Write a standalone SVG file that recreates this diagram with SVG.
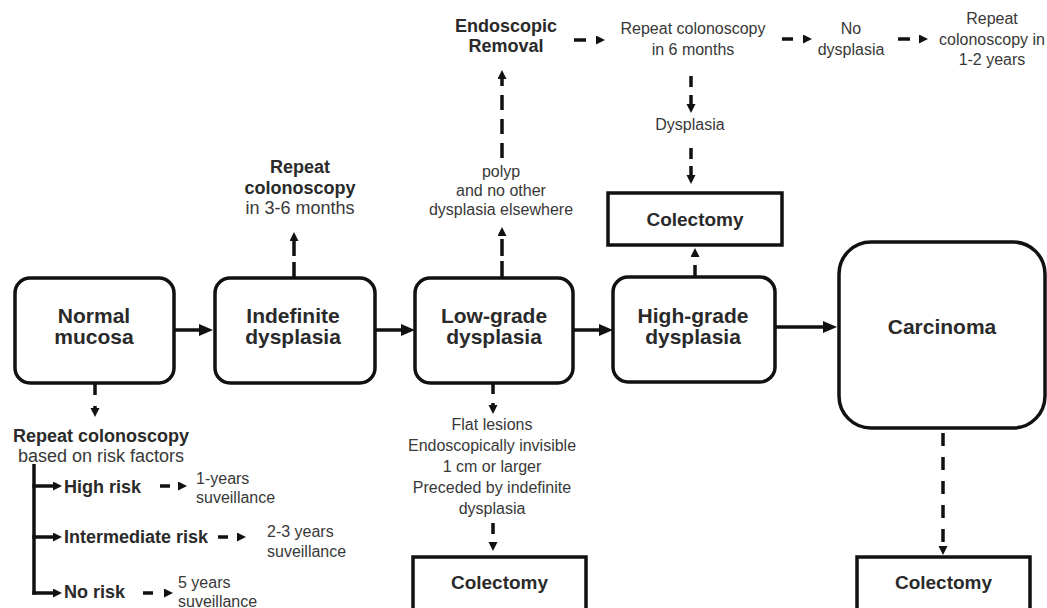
<svg xmlns="http://www.w3.org/2000/svg" width="1047" height="608" viewBox="0 0 1047 608">
<defs>
<style>
text{font-family:"Liberation Sans",Arial,sans-serif;fill:#2a2a2a}
.nb{font-size:21px;font-weight:bold;text-anchor:middle}
.b18{font-size:18px;font-weight:bold}
.r16{font-size:16px;fill:#383838}
.r18{font-size:18px;fill:#383838}
.r15{font-size:16px;fill:#383838}
.c{text-anchor:middle}
.box{fill:#fff;stroke:#111;stroke-width:3.5}
.sol{stroke:#111;stroke-width:3.5;fill:none}
.dsh{stroke:#111;stroke-width:3.5;fill:none}
</style>
<marker id="ab" markerUnits="userSpaceOnUse" markerWidth="14" markerHeight="12" refX="8" refY="6" orient="auto">
<path d="M0,0 L14,6 L0,12 z" fill="#111"/>
</marker>
<marker id="as" markerUnits="userSpaceOnUse" markerWidth="10" markerHeight="10" refX="5" refY="4.5" orient="auto">
<path d="M0,0 L9,4.5 L0,9 z" fill="#111"/>
</marker>
</defs>

<g id="connectors">
<line class="sol" x1="174" y1="330" x2="207" y2="330" marker-end="url(#ab)"/>
<line class="sol" x1="375" y1="330" x2="409" y2="330" marker-end="url(#ab)"/>
<line class="sol" x1="573" y1="330" x2="607" y2="330" marker-end="url(#ab)"/>
<line class="sol" x1="775" y1="327" x2="831" y2="327" marker-end="url(#ab)"/>
<line class="dsh" x1="95" y1="383" x2="95" y2="413" stroke-dasharray="12 11" marker-end="url(#as)"/>
<line class="sol" x1="34" y1="464" x2="34" y2="594.7"/>
<line class="sol" x1="32.3" y1="486" x2="58" y2="486" marker-end="url(#as)"/>
<line class="sol" x1="32.3" y1="537" x2="58" y2="537" marker-end="url(#as)"/>
<line class="sol" x1="32.3" y1="593" x2="58" y2="593" marker-end="url(#as)"/>
<line class="dsh" x1="160" y1="486" x2="183" y2="486" stroke-dasharray="10 10" marker-end="url(#as)"/>
<line class="dsh" x1="218" y1="537" x2="242" y2="537" stroke-dasharray="10 9" marker-end="url(#as)"/>
<line class="dsh" x1="143" y1="593" x2="169" y2="593" stroke-dasharray="10 11" marker-end="url(#as)"/>
<line class="dsh" x1="294" y1="278" x2="294" y2="236" stroke-dasharray="16 6" marker-end="url(#as)"/>
<line class="dsh" x1="502" y1="278" x2="502" y2="231" stroke-dasharray="17 5" marker-end="url(#as)"/>
<line class="dsh" x1="502" y1="158" x2="502" y2="74" stroke-dasharray="15 9" marker-end="url(#as)"/>
<line class="dsh" x1="574" y1="40" x2="601" y2="40" stroke-dasharray="12 11" marker-end="url(#as)"/>
<line class="dsh" x1="782" y1="39" x2="808" y2="39" stroke-dasharray="11 10" marker-end="url(#as)"/>
<line class="dsh" x1="898" y1="39" x2="924" y2="39" stroke-dasharray="12 10" marker-end="url(#as)"/>
<line class="dsh" x1="691" y1="76" x2="691" y2="109" stroke-dasharray="11 8" marker-end="url(#as)"/>
<line class="dsh" x1="691" y1="148" x2="691" y2="180" stroke-dasharray="11 7" marker-end="url(#as)"/>
<line class="dsh" x1="695" y1="277" x2="695" y2="252" stroke-dasharray="12 8" marker-end="url(#as)"/>
<line class="dsh" x1="493" y1="383" x2="493" y2="410" stroke-dasharray="11 9" marker-end="url(#as)"/>
<line class="dsh" x1="493" y1="523" x2="493" y2="547" stroke-dasharray="11 8" marker-end="url(#as)"/>
<line class="dsh" x1="943" y1="433" x2="943" y2="551" stroke-dasharray="13 11" marker-end="url(#as)"/>
</g>

<g id="normal">
<rect class="box" x="15" y="278" width="159" height="105" rx="15"/>
<text class="nb" x="94" y="323">Normal</text>
<text class="nb" x="94" y="344">mucosa</text>
</g>
<g id="indefinite">
<rect class="box" x="215" y="278" width="160" height="105" rx="15"/>
<text class="nb" x="293" y="323">Indefinite</text>
<text class="nb" x="293" y="344">dysplasia</text>
</g>
<g id="lowgrade">
<rect class="box" x="415" y="278" width="158" height="105" rx="15"/>
<text class="nb" x="494" y="323">Low-grade</text>
<text class="nb" x="494" y="344">dysplasia</text>
</g>
<g id="highgrade">
<rect class="box" x="613" y="277" width="162" height="105" rx="15"/>
<text class="nb" x="693" y="323">High-grade</text>
<text class="nb" x="693" y="344">dysplasia</text>
</g>
<g id="carcinoma">
<rect class="box" x="839" y="242" width="206" height="186" rx="32"/>
<text class="nb" x="942" y="334">Carcinoma</text>
</g>
<g id="colectomy-top">
<rect class="box" x="608" y="193" width="174" height="52"/>
<text class="nb" x="695" y="226" style="font-size:19px">Colectomy</text>
</g>
<g id="colectomy-low">
<rect class="box" x="413" y="557" width="173" height="60"/>
<text class="nb" x="499.5" y="589" style="font-size:19px">Colectomy</text>
</g>
<g id="colectomy-carcinoma">
<rect class="box" x="857" y="557" width="173" height="60"/>
<text class="nb" x="943.5" y="589" style="font-size:19px">Colectomy</text>
</g>

<g id="repeat-risk">
<text class="b18 c" x="101" y="442">Repeat colonoscopy</text>
<text class="r18 c" x="101" y="462">based on risk factors</text>
</g>
<g id="high-risk">
<text class="b18" x="64" y="493">High risk</text>
<text class="r15" x="196" y="484">1-years</text>
<text class="r15" x="196" y="503">suveillance</text>
</g>
<g id="intermediate-risk">
<text class="b18" x="64" y="543">Intermediate risk</text>
<text class="r15" x="267" y="537">2-3 years</text>
<text class="r15" x="267" y="557">suveillance</text>
</g>
<g id="no-risk">
<text class="b18" x="64" y="598">No risk</text>
<text class="r15" x="178" y="588">5 years</text>
<text class="r15" x="178" y="607">suveillance</text>
</g>
<g id="repeat-3-6">
<text class="b18 c" x="300" y="173">Repeat</text>
<text class="b18 c" x="300" y="194">colonoscopy</text>
<text class="r18 c" x="300" y="214">in 3-6 months</text>
</g>
<g id="polyp">
<text class="r16 c" x="501" y="177">polyp</text>
<text class="r16 c" x="501" y="196">and no other</text>
<text class="r16 c" x="501" y="215">dysplasia elsewhere</text>
</g>
<g id="endoscopic">
<text class="b18 c" x="506" y="32">Endoscopic</text>
<text class="b18 c" x="506" y="52">Removal</text>
</g>
<g id="repeat-6">
<text class="r16 c" x="693" y="34">Repeat colonoscopy</text>
<text class="r16 c" x="693" y="55">in 6 months</text>
</g>
<g id="dysplasia">
<text class="r16 c" x="690" y="130">Dysplasia</text>
</g>
<g id="no-dysplasia">
<text class="r16 c" x="851" y="34">No</text>
<text class="r16 c" x="851" y="55">dysplasia</text>
</g>
<g id="repeat-1-2">
<text class="r16 c" x="992" y="24">Repeat</text>
<text class="r16 c" x="992" y="45">colonoscopy in</text>
<text class="r16 c" x="992" y="65">1-2 years</text>
</g>
<g id="flat">
<text class="r16 c" x="492" y="430">Flat lesions</text>
<text class="r16 c" x="492" y="451">Endoscopically invisible</text>
<text class="r16 c" x="492" y="472">1 cm or larger</text>
<text class="r16 c" x="492" y="493">Preceded by indefinite</text>
<text class="r16 c" x="492" y="514">dysplasia</text>
</g>
</svg>
